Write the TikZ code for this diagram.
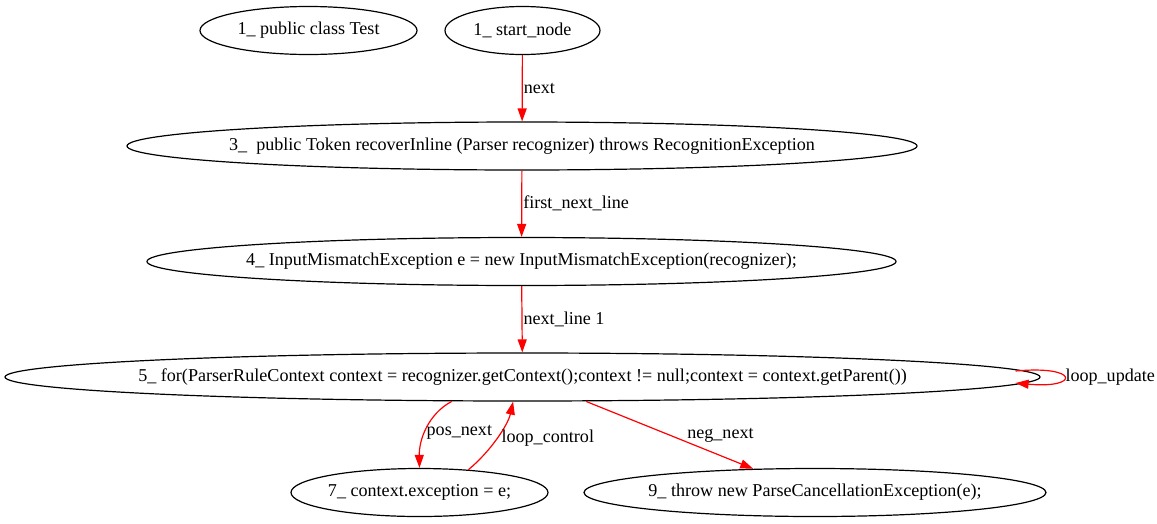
\documentclass[tikz,border=0pt]{standalone}
\usepackage{fontspec}
\setmainfont{Liberation Serif}
\usetikzlibrary{shapes.geometric,arrows.meta}

\newcommand{\ctext}[1]{\makebox[0pt]{#1}}

\tikzset{
  stmt/.style={draw, ellipse, line width=1.2pt, inner sep=0pt, minimum height=48,
    font=\fontsize{18.1}{22}\selectfont},
  flow/.style={draw=red, line width=1.2pt, -{Triangle[length=13pt,width=9pt]}, red},
  elabel/.style={font=\fontsize{18.1}{22}\selectfont, text=black, inner sep=1pt}
}

\begin{document}
\begin{tikzpicture}[x=1pt,y=-1pt]
\useasboundingbox (0,0) rectangle (1157,523);

%--- RANK 0 ---
\node[stmt, minimum width=217] (cls) at (308.5,30.5) {\ctext{1\_ public class Test}};
\node[stmt, minimum width=155] (start) at (522.5,30.5) {\ctext{1\_ start\_node}};

%--- METHOD HEAD AND BODY ---
\node[stmt, minimum width=790] (decl) at (522,146) {\ctext{3\_\ \ public Token recoverInline (Parser recognizer) throws RecognitionException}};
\node[stmt, minimum width=749] (exc) at (521.5,261.5) {\ctext{4\_ InputMismatchException e = new InputMismatchException(recognizer);}};
\node[stmt, minimum width=1035] (forloop) at (522.5,377) {\ctext{5\_ for(ParserRuleContext context = recognizer.getContext();context != null;context = context.getParent())}};

%--- LOOP BODY AND EXIT ---
\node[stmt, minimum width=257] (assign) at (419.5,492.5) {\ctext{7\_ context.exception = e;}};
\node[stmt, minimum width=462] (throwstmt) at (815,492.5) {\ctext{9\_ throw new ParseCancellationException(e);}};

%--- EDGES ---
\draw[flow] (start) -- node[elabel, right] {next} (decl);
\draw[flow] (decl) -- node[elabel, right] {first\_next\_line} (exc);
\draw[flow] (exc) -- node[elabel, right] {next\_line 1} (forloop);

% self loop
\draw[flow] ([shift={(-25,-6)}]forloop.east) .. controls (1080,365) and (1080,389) .. node[elabel, right, pos=0.5] {loop\_update} ([shift={(-25,6)}]forloop.east);

\draw[flow] (forloop.-161.2) .. controls (428,414) and (419,440) .. node[elabel, right, pos=0.55] {pos\_next} (assign.north);
\draw[flow] (assign.25.7) .. controls (490,452) and (508,425) .. node[elabel, right=3pt, pos=0.5] {loop\_control} (forloop.-111.6);
\draw[flow] (forloop.-21.8) -- node[elabel, right=16pt, midway] {neg\_next} (throwstmt.159.3);

\end{tikzpicture}
\end{document}
